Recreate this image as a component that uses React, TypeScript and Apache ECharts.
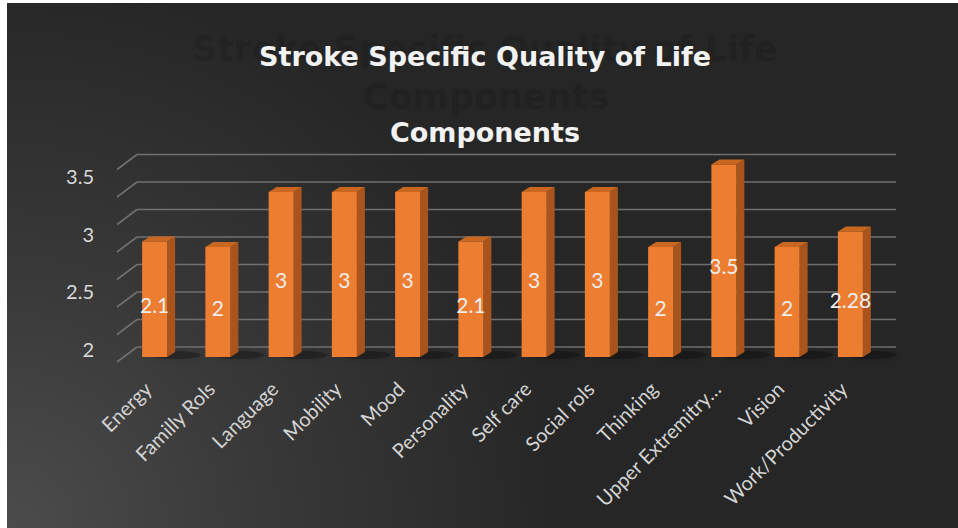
import React, { useEffect, useRef } from "react";
import * as echarts from "echarts";

const categories = [
  "Energy",
  "Familly Rols",
  "Language",
  "Mobility",
  "Mood",
  "Personality",
  "Self care",
  "Social rols",
  "Thinking",
  "Upper Extremitry…",
  "Vision",
  "Work/Productivity",
];
const values = [2.1, 2, 3, 3, 3, 2.1, 3, 3, 2, 3.5, 2, 2.28];
const gridValues = [0, 0.5, 1, 1.5, 2, 2.5, 3, 3.5];
const tickLabelMin = 2;
const tickLabelMax = 3.5;
const tickLabelStep = 0.5;
const titleLines = ["Stroke Specific Quality of Life", "Components"];

export default function App() {
  const ref = useRef<HTMLDivElement>(null);
  useEffect(() => {
    if (!ref.current) return;
    const chart = echarts.init(ref.current, undefined, { renderer: "svg" });
    const gridColor = "#707070";
    const ghostStyle = {
      font: "bold 35px 'DejaVu Sans'",
      fill: "rgba(0,0,0,0.11)",
      textAlign: "center",
      textVerticalAlign: "middle",
      textShadowColor: "rgba(0,0,0,0.15)",
      textShadowBlur: 3,
    };
    const titleStyle = {
      font: "bold 27px 'DejaVu Sans'",
      fill: "#f2f2f2",
      textAlign: "center",
      textVerticalAlign: "middle",
    };
    chart.setOption({
      animation: false,
      backgroundColor: "transparent",
      grid: [
        { left: 116, right: 76, top: 161.5, bottom: 171 },
        { left: 116, right: 76, top: 173, bottom: 179 },
      ],
      xAxis: [
        {
          type: "category",
          gridIndex: 0,
          data: categories,
          axisLine: { show: false },
          axisTick: { show: false },
          axisLabel: {
            interval: 0,
            rotate: 45,
            margin: 35,
            verticalAlign: "bottom",
            color: "#d3d3d3",
            fontFamily: "Lato",
            fontSize: 20,
          },
        },
        { type: "category", gridIndex: 1, data: categories, show: false },
      ],
      yAxis: [
        { type: "value", gridIndex: 0, min: 0, max: 3.5, show: false },
        {
          type: "value",
          gridIndex: 1,
          min: tickLabelMin,
          max: tickLabelMax,
          interval: tickLabelStep,
          axisLine: { show: false },
          axisTick: { show: false },
          splitLine: { show: false },
          axisLabel: {
            color: "#d9d9d9",
            fontFamily: "Lato",
            fontSize: 20,
            margin: 29,
          },
        },
      ],
      graphic: [
        { type: "text", x: 478, y: 46, z: 0, style: { ...ghostStyle, text: titleLines[0] } },
        { type: "text", x: 479, y: 94, z: 0, style: { ...ghostStyle, text: titleLines[1] } },
        { type: "text", x: 478, y: 53, z: 10, style: { ...titleStyle, text: titleLines[0] } },
        { type: "text", x: 478, y: 129, z: 10, style: { ...titleStyle, text: titleLines[1] } },
      ],
      series: [
        {
          type: "custom",
          xAxisIndex: 0,
          yAxisIndex: 0,
          silent: true,
          clip: false,
          z: 1,
          data: gridValues.map((v) => [0, v]),
          encode: { x: 0, y: 1 },
          renderItem: (params: any, api: any) => {
            const cs = params.coordSys;
            const y = api.coord([0, api.value(1)])[1] - 10;
            const x0 = cs.x + 14;
            const x1 = cs.x + cs.width + 14;
            return {
              type: "group",
              children: [
                {
                  type: "line",
                  shape: { x1: x0, y1: y, x2: x1, y2: y },
                  style: { stroke: gridColor, lineWidth: 1.6 },
                },
                {
                  type: "line",
                  shape: { x1: cs.x - 6, y1: y + 15, x2: x0, y2: y },
                  style: { stroke: gridColor, lineWidth: 1.6 },
                },
              ],
            };
          },
        },
        {
          type: "custom",
          xAxisIndex: 0,
          yAxisIndex: 0,
          silent: true,
          clip: false,
          z: 2,
          data: values.map((v, i) => [i, v]),
          encode: { x: 0, y: 1 },
          renderItem: (params: any, api: any) => {
            const i = api.value(0);
            const v = api.value(1);
            const top = api.coord([i, v]);
            const base = api.coord([i, 0]);
            const w = 25;
            const dx = 8;
            const dy = 5;
            const xl = top[0] - w / 2;
            const xr = top[0] + w / 2;
            const yt = top[1];
            const yb = base[1];
            return {
              type: "group",
              children: [
                {
                  type: "ellipse",
                  shape: { cx: xr + 8, cy: yb - 2, rx: 26, ry: 4 },
                  style: {
                    fill: "rgba(0,0,0,0.28)",
                    shadowBlur: 8,
                    shadowColor: "rgba(0,0,0,0.5)",
                  },
                },
                {
                  type: "polygon",
                  shape: {
                    points: [
                      [xr, yt],
                      [xr + dx, yt - dy],
                      [xr + dx, yb - dy],
                      [xr, yb],
                    ],
                  },
                  style: { fill: "#a9541d" },
                },
                {
                  type: "polygon",
                  shape: {
                    points: [
                      [xl, yt],
                      [xl + dx, yt - dy],
                      [xr + dx, yt - dy],
                      [xr, yt],
                    ],
                  },
                  style: { fill: "#c9661f" },
                },
                {
                  type: "rect",
                  shape: { x: xl, y: yt, width: w, height: yb - yt },
                  style: { fill: "#ED7D31" },
                },
                {
                  type: "text",
                  x: top[0],
                  y: (yt + yb) / 2 + 5,
                  style: {
                    text: String(v),
                    font: "21px Lato",
                    fill: "#eeeeee",
                    textAlign: "center",
                    textVerticalAlign: "middle",
                  },
                },
              ],
            };
          },
        },
      ],
    });
    return () => chart.dispose();
  }, []);
  return (
    <div
      ref={ref}
      style={{
        position: "absolute",
        left: 7,
        top: 3,
        width: 951,
        height: 525,
        background:
          "radial-gradient(circle 560px at 0% 100%, #4c4c4c 0%, #393939 45%, #262626 100%)",
      }}
    />
  );
}
